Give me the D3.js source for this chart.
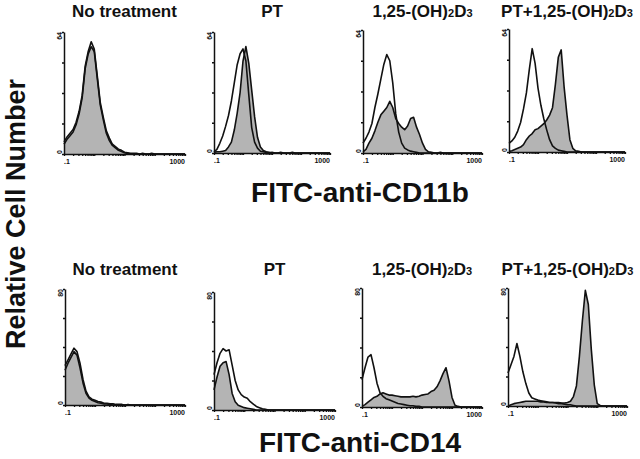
<!DOCTYPE html>
<html>
<head>
<meta charset="utf-8">
<script src="https://cdn.jsdelivr.net/npm/d3@7"></script>
<style>
body { margin: 0; background: #fff; }
text { font-family: "Liberation Sans", Arial, sans-serif; fill: #111; }
</style>
</head>
<body>
<svg width="640" height="459"></svg>
<script>
'use strict';

// log10 fluorescence channel of each histogram bin (.1 ... 1000)
const channels = [-1.0,-0.9,-0.8,-0.7,-0.6,-0.5,-0.4,-0.3,-0.2,-0.1,0.0,
                  0.1,0.2,0.3,0.4,0.5,0.6,0.7,0.8,0.9,1.0,
                  1.1,1.2,1.3,1.4,1.5,1.6,1.7,1.8,1.9,2.0,
                  2.1,2.2,2.3,2.4,2.5,2.6,2.7,2.8,2.9,3.0];

const treatments = ["No treatment", "PT", "1,25-(OH)2D3", "PT+1,25-(OH)2D3"];
const markers = ["FITC-anti-CD11b", "FITC-anti-CD14"];
const xTickLabels = [".1", "1000"];
const yMaxLabels = ["64", "80"];
const yTitle = "Relative Cell Number";

// relative cell number (% of y-axis) per channel; open = control outline, filled = gray histogram
const cd11bNoneOpen   = [10,14,17,20,26,35,48,72,84,92,86,64,42,30,19,13,8,6,4,3,1.5,1,0.5,0.5,0.5,0,0.5,0,0,0.5,0,0,0,0,0,0,0,0,0,0,0];
const cd11bNoneFilled = [8,12,15,18,24,33,46,70,82,88,84,62,40,28,17,11,7,5,3,2,1,0.5,0,0,0,0,0,0,0,0,0,0,0,0,0,0,0,0,0,0,0];
const cd11bPtOpen     = [1,3,8,14,22,31,43,58,73,82,86,76,48,21,9,4,1.5,1,0.5,0,0.5,0,0,0.5,0,0,0,0.5,0,0,0,0,0,0,0,0,0,0,0,0,0];
const cd11bPtFilled   = [0.5,1,1,1.5,2,5,9,19,33,50,76,88,74,52,30,13,5,2,1,0.5,0,0,0,0,0,0,0,0,0,0,0,0,0,0,0,0,0,0,0,0,0];
const cd11bVdOpen     = [8,12,17,24,37,48,60,72,80,75,57,32,17,8,4,2.5,1.5,1,0.5,0,0,0,0,0,0,0,0,0,0,0,0,0,0,0,0,0,0,0,0,0,0];
const cd11bVdFilled   = [1,3,8,12,18,25,31,34,37,42,37,28,24,21,19,22,28,29,21,15,8,3,1,0.5,0,0,0.5,0,0,0,0,0,0,0,0,0,0,0,0,0,0];
const cd11bBothOpen   = [7,9,12,17,24,35,48,67,84,72,52,38,27,18,10,5,3,1.5,1,0.5,0,0,0,0,0,0,0,0,0,0,0,0,0,0,0,0,0,0,0,0,0];
const cd11bBothFilled = [0.5,1,2,3,4,6,10,13,15,18,19,21,23,26,30,36,55,77,83,53,30,10,3,1,0.5,0,0,0,0,0,0,0,0,0,0,0,0,0,0,0,0];

const cd14NoneOpen    = [34,39,44,49,46,36,22,12,7,5,4,3,2.5,1.5,1.5,1,1,0.5,0.5,0.5,0,0.5,0,0,0,0,0,0,0,0,0,0,0,0,0,0,0,0,0,0,0];
const cd14NoneFilled  = [30,36,41,46,43,32,19,10,6,4,3,2,1.5,1,1,0.5,0,0,0,0,0,0,0,0,0,0,0,0,0,0,0,0,0,0,0,0,0,0,0,0,0];
const cd14PtOpen      = [30,40,48,52,50,51,38,25,17,13,11,10,7,5,3,2,1,0.5,0,0,0,0,0,0,0,0,0,0,0,0,0,0,0,0,0,0,0,0,0,0,0];
const cd14PtFilled    = [17,28,37,40,41,30,14,7,4,3,2,1.5,1,0.5,0,0,0,0,0,0,0,0,0,0,0,0,0,0,0,0,0,0,0,0,0,0,0,0,0,0,0];
const cd14VdOpen      = [23,33,42,44,33,20,12,9,7,6,5,4,3,2.5,2,1.5,1,1,0.5,0.5,0,0,0,0,0,0,0,0,0,0,0,0,0,0,0,0,0,0,0,0,0];
const cd14VdFilled    = [0.5,2,4,6,8,9,11,12,11,10,10,9.5,9,8.5,8.5,8.5,8.5,9,8.5,9,10,10.5,11,13,14,17,22,28,33,22,8,1.5,0.5,0,0,0,0,0,0,0,0];
const cd14BothOpen    = [28,35,42,53,42,29,19,11,7,6,5,4.5,4,3.5,3,3,2.5,2,2,1.5,1,1,0.5,0,0,0,0,0,0,0,0,0,0,0,0,0,0,0,0,0,0];
const cd14BothFilled  = [0,1,2,2.5,3,3.5,4,4,4,4,4,3.5,3.5,3,3,3,3,3,2.5,2.5,3,4,8,17,42,72,98,86,48,18,2,0.5,0,0,0,0,0,0,0,0,0];

const rows = [
  {marker: markers[0], yMax: yMaxLabels[0],
   open: [cd11bNoneOpen, cd11bPtOpen, cd11bVdOpen, cd11bBothOpen],
   filled: [cd11bNoneFilled, cd11bPtFilled, cd11bVdFilled, cd11bBothFilled]},
  {marker: markers[1], yMax: yMaxLabels[1],
   open: [cd14NoneOpen, cd14PtOpen, cd14VdOpen, cd14BothOpen],
   filled: [cd14NoneFilled, cd14PtFilled, cd14VdFilled, cd14BothFilled]}
];

// panel frames (layout)
const frames = [
  {left: [64, 214, 363, 509], right: [185, 330, 482, 625], top: [32, 32, 30, 29], base: [154, 153, 153, 152],
   titleY: 17, markerY: 202},
  {left: [65, 214, 362, 508], right: [185, 335, 482, 627], top: [289, 292, 288, 288], base: [405, 410, 407, 406],
   titleY: 275, markerY: 452}
];

let svg = d3.select("svg");
const gray = "#b4b4b4", ink = "#111";

// minor/major ticks of the 4-decade log axis
let logTicks = [];
[-1, 0, 1, 2].forEach(function(dec) {
  d3.range(1, 10).forEach(function(k) { logTicks.push(dec + Math.log10(k)); });
});
logTicks.push(3);

function addTitle(sel, str) {
  // digits after ")" or "D" are drawn small, as in (OH)2D3
  let parts = [];
  str.split("").forEach(function(c, i) {
    let small = /\d/.test(c) && i > 0 && /[)D]/.test(str[i - 1]);
    let last = parts[parts.length - 1];
    if (last && last.small === small) last.t += c;
    else parts.push({t: c, small: small});
  });
  sel.selectAll("tspan").data(parts).enter().append("tspan")
    .attr("font-size", function(d) { return d.small ? 11 : null; })
    .text(function(d) { return d.t; });
}

rows.forEach(function(row, r) {
  let fr = frames[r];
  treatments.forEach(function(tr, c) {
    let x = d3.scaleLinear().domain([-1, 3]).range([fr.left[c], fr.right[c]]);
    let y = d3.scaleLinear().domain([0, 100]).range([fr.base[c], fr.top[c]]);
    let g = svg.append("g");

    let filledPts = channels.map(function(ch, i) { return [ch, row.filled[c][i]]; });
    let openPts = channels.map(function(ch, i) { return [ch, row.open[c][i]]; });

    let area = d3.area().x(function(d) { return x(d[0]); }).y0(y(0)).y1(function(d) { return y(d[1]); });
    let line = d3.line().x(function(d) { return x(d[0]); }).y(function(d) { return y(d[1]); });

    g.append("path").attr("d", area(filledPts)).attr("fill", gray);
    g.append("path").attr("d", line(filledPts)).attr("fill", "none")
      .attr("stroke", ink).attr("stroke-width", 1.6).attr("stroke-linejoin", "round");
    g.append("path").attr("d", line(openPts)).attr("fill", "none")
      .attr("stroke", ink).attr("stroke-width", 1.6).attr("stroke-linejoin", "round");

    let xAxis = g.append("g")
      .attr("transform", "translate(0," + fr.base[c] + ")")
      .call(d3.axisBottom(x).tickValues(logTicks).tickSize(2).tickSizeOuter(0).tickFormat(""));
    xAxis.selectAll("path,line").attr("stroke", ink).attr("stroke-width", 1.3);

    let yAxis = g.append("g")
      .attr("transform", "translate(" + fr.left[c] + ",0)")
      .call(d3.axisLeft(y).tickValues([0, 25, 50, 75, 100]).tickSize(2).tickSizeOuter(0).tickFormat(""));
    yAxis.selectAll("path,line").attr("stroke", ink).attr("stroke-width", 1.5);

    g.append("text").attr("x", x(-1)).attr("y", fr.base[c] + 10)
      .attr("font-size", 7).attr("font-weight", "bold").text(xTickLabels[0]);
    g.append("text").attr("x", x(3)).attr("y", fr.base[c] + 10)
      .attr("text-anchor", "end").attr("font-size", 7).attr("font-weight", "bold").text(xTickLabels[1]);

    g.append("text")
      .attr("transform", "translate(" + (fr.left[c] - 2) + "," + fr.top[c] + ") rotate(-90)")
      .attr("text-anchor", "end").attr("font-size", 7).attr("font-weight", "bold").text(row.yMax);
    g.append("text")
      .attr("transform", "translate(" + (fr.left[c] - 2) + "," + fr.base[c] + ") rotate(-90)")
      .attr("font-size", 7).attr("font-weight", "bold").text("0");

    let t = g.append("text")
      .attr("x", (fr.left[c] + fr.right[c]) / 2).attr("y", fr.titleY)
      .attr("text-anchor", "middle").attr("font-size", 17).attr("font-weight", "bold");
    addTitle(t, tr);
  });

  svg.append("text").attr("x", 360).attr("y", fr.markerY)
    .attr("text-anchor", "middle").attr("font-size", 28).attr("font-weight", "bold")
    .text(row.marker);
});

svg.append("text")
  .attr("transform", "translate(25,214) rotate(-90)")
  .attr("text-anchor", "middle").attr("font-size", 27).attr("font-weight", "bold")
  .text(yTitle);
</script>
</body>
</html>
